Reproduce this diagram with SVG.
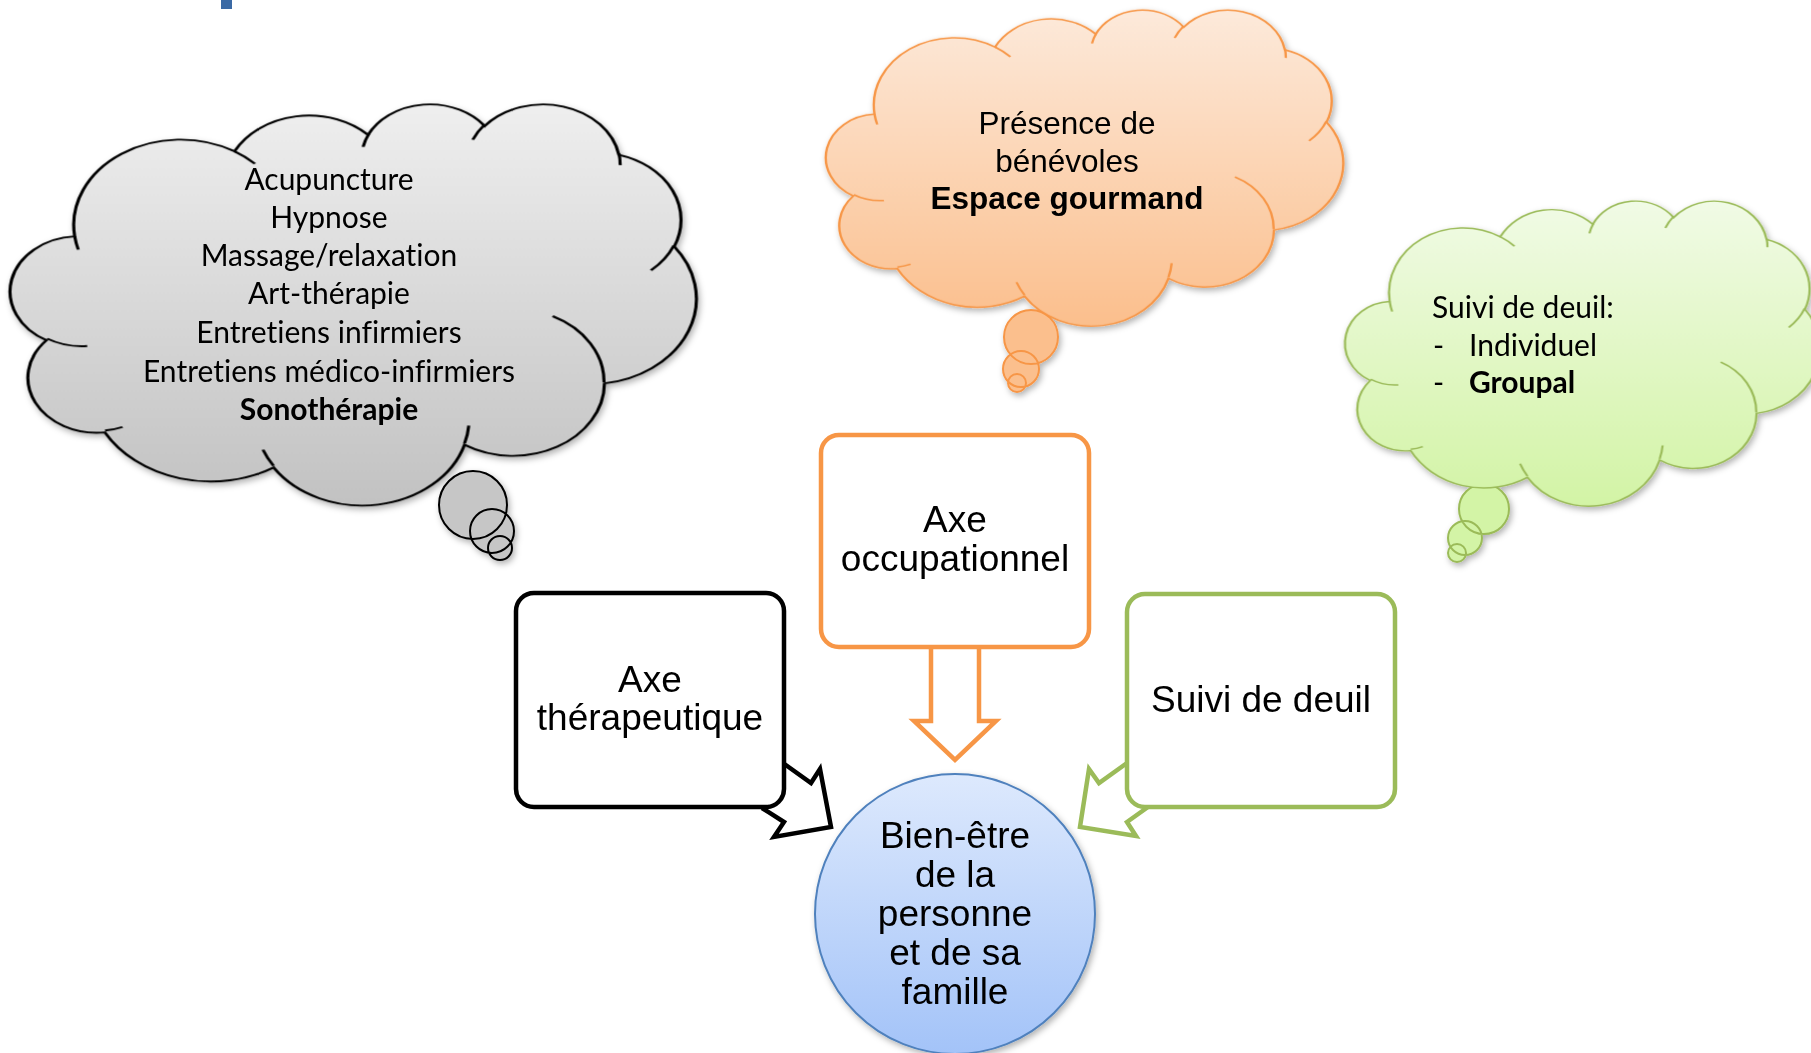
<svg xmlns="http://www.w3.org/2000/svg" width="1811" height="1053" viewBox="0 0 1811 1053">
<style>
.cal{font-family:Lato,"Open Sans","DejaVu Sans",sans-serif;font-size:30px;fill:#000;font-variant-ligatures:none;font-feature-settings:"liga" 0,"dlig" 0}
.ari{font-family:"Liberation Sans",Arial,sans-serif;fill:#000}
.b{font-weight:bold}
.cl{vector-effect:non-scaling-stroke;stroke-width:2}
.crease{fill:none;vector-effect:non-scaling-stroke;stroke-width:2}
.box{fill:#fff;stroke-width:4.5}
.arr{fill:#fff;stroke-width:4.5;stroke-linejoin:miter}
</style>
<defs>
<path id="cloud" d="M39.00,143.70 A67.53 91.90 0 0 1 140.06 52.03 A53.33 72.67 0 0 1 224.57 34.32 A43.65 59.45 0 0 1 298.34 24.80 A48.57 65.95 0 0 1 383.19 55.77 A53.33 72.73 0 0 1 418.19 154.60 A67.75 92.20 0 0 1 374.06 302.04 A57.85 78.67 0 0 1 285.57 368.14 A67.52 92.15 0 0 1 164.82 392.67 A77.20 105.43 0 0 1 58.07 354.78 A43.60 59.18 0 0 1 21.17 255.55 A43.45 59.45 0 0 1 39.00 143.70 Z"/>
<path id="creases" d="M46.93,261.77 A43.45 59.45 0 0 1 21.59 253.80 M69.28,348.99 A43.60 59.18 0 0 1 58.19 352.81 M164.78,390.90 A67.52 92.15 0 0 1 158.09 373.48 M288.27,347.51 A67.52 92.15 0 0 1 285.60 366.60 M341.29,229.54 A57.85 78.67 0 0 1 373.81 300.90 M417.98,153.54 A53.33 72.73 0 0 1 403.49 180.31 M383.24,54.26 A48.57 65.95 0 0 1 384.00 66.90 M290.78,39.52 A48.57 65.95 0 0 1 298.21 23.39 M221.41,47.20 A43.65 59.45 0 0 1 225.00 33.31 M140.00,51.92 A67.53 91.90 0 0 1 152.99 65.40 M41.27,157.89 A67.53 91.90 0 0 1 39.00 143.70"/>
<linearGradient id="gGray" x1="0" y1="0" x2="0" y2="1"><stop offset="0" stop-color="#efefef"/><stop offset="1" stop-color="#c2c2c2"/></linearGradient>
<linearGradient id="gOrange" x1="0" y1="0" x2="0" y2="1"><stop offset="0" stop-color="#fdeadb"/><stop offset="1" stop-color="#fbbf8d"/></linearGradient>
<linearGradient id="gGreen" x1="0" y1="0" x2="0" y2="1"><stop offset="0" stop-color="#f1fbe6"/><stop offset="1" stop-color="#d3f4a6"/></linearGradient>
<linearGradient id="gBlue" x1="0" y1="0" x2="0" y2="1"><stop offset="0" stop-color="#dde9fd"/><stop offset="1" stop-color="#a3c3f8"/></linearGradient>
<filter id="sh" x="-10%" y="-10%" width="125%" height="125%"><feDropShadow dx="2" dy="3" stdDeviation="3" flood-color="#000" flood-opacity="0.3"/></filter>
</defs>

<rect x="221" y="0" width="11" height="9" fill="#3b6aa5"/>

<g id="cloud-therapeutique" filter="url(#sh)">
<path d="M439,505 a34,34 0 1 0 68,0 a34,34 0 1 0 -68,0 Z M470,531 a22,22 0 1 0 44,0 a22,22 0 1 0 -44,0 Z M488,548 a12,12 0 1 0 24,0 a12,12 0 1 0 -24,0 Z" fill="#c6c6c6" stroke="#000" stroke-width="2"/>
<g transform="translate(13,103) scale(1.58102,0.92824)">
<use href="#cloud" class="cl" fill="url(#gGray)" stroke="#000"/>
<use href="#creases" class="crease" stroke="#000"/>
</g>
</g>
<g id="cloud-therapeutique-text" class="cal" text-anchor="middle">
<text x="329" y="190">Acupuncture</text>
<text x="329" y="228">Hypnose</text>
<text x="329" y="266">Massage/relaxation</text>
<text x="329" y="304">Art-thérapie</text>
<text x="329" y="343">Entretiens infirmiers</text>
<text x="329" y="382">Entretiens médico-infirmiers</text>
<text x="329" y="420" class="b">Sonothérapie</text>
</g>

<g id="cloud-occupationnel" filter="url(#sh)">
<path d="M1004,337 a27,27 0 1 0 54,0 a27,27 0 1 0 -54,0 Z M1003,369 a18,18 0 1 0 36,0 a18,18 0 1 0 -36,0 Z M1008,383 a9,9 0 1 0 18,0 a9,9 0 1 0 -18,0 Z" fill="#fbbf8d" stroke="#f79646" stroke-width="2"/>
<g transform="translate(828,9) scale(1.19213,0.73148)">
<use href="#cloud" class="cl" fill="url(#gOrange)" stroke="#f79646"/>
<use href="#creases" class="crease" stroke="#f79646"/>
</g>
</g>
<g id="cloud-occupationnel-text" class="ari" text-anchor="middle" font-size="31.5">
<text x="1067" y="134">Présence de</text>
<text x="1067" y="172">bénévoles</text>
<text x="1067" y="209" class="b">Espace gourmand</text>
</g>

<g id="cloud-deuil" filter="url(#sh)">
<path d="M1459,509 a25,25 0 1 0 50,0 a25,25 0 1 0 -50,0 Z M1448,538 a17,17 0 1 0 34,0 a17,17 0 1 0 -34,0 Z M1448,553 a9,9 0 1 0 18,0 a9,9 0 1 0 -18,0 Z" fill="#d3f4a6" stroke="#9bbb59" stroke-width="2"/>
<g transform="translate(1347,200) scale(1.09491,0.70602)">
<use href="#cloud" class="cl" fill="url(#gGreen)" stroke="#9bbb59"/>
<use href="#creases" class="crease" stroke="#9bbb59"/>
</g>
</g>
<g id="cloud-deuil-text" class="cal">
<text x="1432" y="318">Suivi de deuil:</text>
<text x="1433" y="356">-</text>
<text x="1469" y="356">Individuel</text>
<text x="1433" y="393">-</text>
<text x="1469" y="393" class="b">Groupal</text>
</g>

<g id="connectors">
<path class="arr" stroke="#f79646" d="M931,647 V721 H914 L955,760 L996,721 H979 V647"/>
<path class="arr" stroke="#000" d="M783,763 L811,783 L820,769 L831,827 L774,837 L784,822 L762,808"/>
<path class="arr" stroke="#9bbb59" d="M1127,763 L1099,783 L1089,769 L1080,827 L1136,836 L1127,822 L1148,807"/>
</g>

<g id="axe-occupationnel">
<rect class="box" x="821" y="435" width="268" height="212" rx="18" stroke="#f79646"/>
<text class="ari" font-size="37" text-anchor="middle" x="955" y="532">Axe</text>
<text class="ari" font-size="37" text-anchor="middle" x="955" y="571">occupationnel</text>
</g>

<g id="axe-therapeutique">
<rect class="box" x="516" y="593" width="268" height="214" rx="18" stroke="#000"/>
<text class="ari" font-size="37" text-anchor="middle" x="650" y="692">Axe</text>
<text class="ari" font-size="37" text-anchor="middle" x="650" y="730">thérapeutique</text>
</g>

<g id="suivi-deuil">
<rect class="box" x="1127" y="594" width="268" height="213" rx="18" stroke="#9bbb59"/>
<text class="ari" font-size="37" text-anchor="middle" x="1261" y="712">Suivi de deuil</text>
</g>

<g id="bien-etre">
<ellipse cx="955" cy="914" rx="140" ry="140" fill="url(#gBlue)" stroke="#4f81bd" stroke-width="2" filter="url(#sh)"/>
<g class="ari" font-size="37" text-anchor="middle">
<text x="955" y="848">Bien-être</text>
<text x="955" y="887">de la</text>
<text x="955" y="926">personne</text>
<text x="955" y="965">et de sa</text>
<text x="955" y="1004">famille</text>
</g>
</g>
</svg>
